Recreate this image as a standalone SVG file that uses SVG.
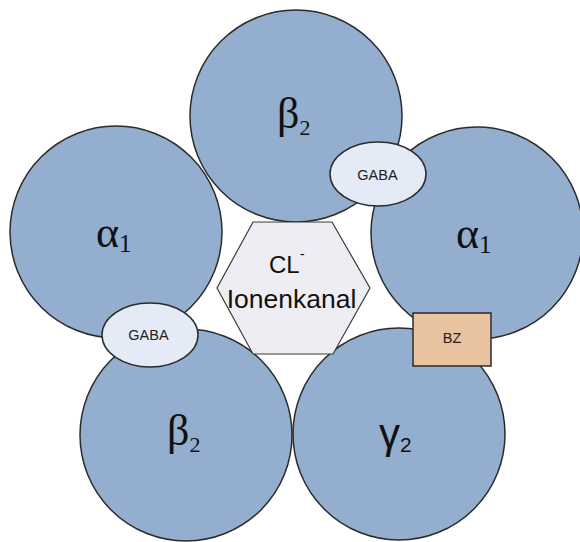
<svg xmlns="http://www.w3.org/2000/svg" width="580" height="542" viewBox="0 0 580 542">
  <style>
    .sub { fill: #93aece; stroke: #2b2b2b; stroke-width: 1.5; }
    .site { fill: #e4eaf6; stroke: #2b2b2b; stroke-width: 1.5; }
    .bz { fill: #e9c29f; stroke: #2b2b2b; stroke-width: 1.5; }
    .chan { fill: #efedf4; stroke: #3a3a3a; stroke-width: 1.2; }
    .greek { font-family: "Liberation Serif", "Times New Roman", serif; font-size: 44px; fill: #111; }
    .greeks { font-family: "Liberation Sans", Arial, sans-serif; font-size: 42px; fill: #111; }
    .lbl { font-family: "Liberation Sans", Arial, sans-serif; font-size: 14.5px; fill: #222; text-anchor: middle; }
    .chantxt { font-family: "Liberation Sans", Arial, sans-serif; fill: #111; }
  </style>
  <rect width="580" height="542" fill="#ffffff"/>

  <!-- subunits of the receptor pentamer -->
  <g id="beta2-top">
    <circle class="sub" cx="296" cy="116" r="106"/>
    <text class="greek" x="277" y="128">β<tspan font-size="22" dy="7">2</tspan></text>
  </g>
  <g id="alpha1-left">
    <circle class="sub" cx="116" cy="232" r="106"/>
    <text class="greek" x="96" y="247">α<tspan font-size="25" dy="5">1</tspan></text>
  </g>
  <g id="alpha1-right">
    <circle class="sub" cx="477" cy="233" r="106"/>
    <text class="greek" x="456" y="248">α<tspan font-size="25" dy="5">1</tspan></text>
  </g>
  <g id="beta2-bottom">
    <circle class="sub" cx="186" cy="435" r="106"/>
    <text class="greek" x="167" y="445">β<tspan font-size="22" dy="7">2</tspan></text>
  </g>
  <g id="gamma2">
    <circle class="sub" cx="399" cy="434" r="106"/>
    <text class="greeks" x="379" y="448">γ<tspan font-size="21" dy="4">2</tspan></text>
  </g>

  <!-- central chloride channel -->
  <g id="channel">
    <polygon class="chan" points="253,222 332,222 370,288 333,354 253,354 217,288"/>
    <text class="chantxt" x="269" y="273" font-size="24">CL<tspan font-size="15" dy="-14">-</tspan></text>
    <text class="chantxt" x="291.5" y="308" font-size="26.5" text-anchor="middle">Ionenkanal</text>
  </g>

  <!-- binding sites -->
  <g id="gaba-top">
    <ellipse class="site" cx="378" cy="174" rx="48" ry="32"/>
    <text class="lbl" x="377.5" y="180">GABA</text>
  </g>
  <g id="gaba-left">
    <ellipse class="site" cx="150" cy="335" rx="48" ry="32"/>
    <text class="lbl" x="148.5" y="340">GABA</text>
  </g>
  <g id="bz-site">
    <rect class="bz" x="413" y="313" width="78" height="53"/>
    <text class="lbl" x="452" y="343" font-size="14">BZ</text>
  </g>

  <g id="connectors"></g>
</svg>
